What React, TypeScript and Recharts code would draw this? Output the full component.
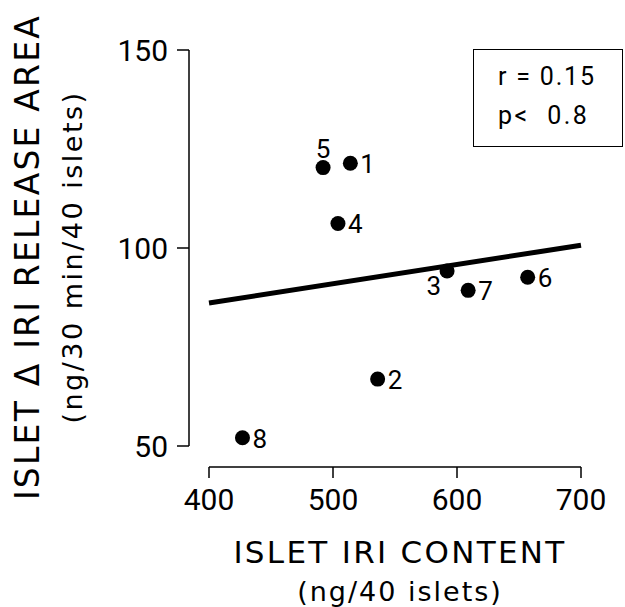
import React from "react";
import { ScatterChart, Scatter, XAxis, YAxis } from "recharts";

// islets, numbered as in the figure
const ISLET_IDS = [1, 2, 3, 4, 5, 6, 7, 8];
const IRI_CONTENT = [514, 536, 592, 504, 492, 657, 609, 427];
const RELEASE_AREA = [121.4, 66.9, 94.2, 106.2, 120.3, 92.6, 89.3, 52.1];

// regression line end points
const FIT_X = [400, 700];
const FIT_Y = [86.1, 100.7];

const X_TICKS = [400, 500, 600, 700];
const Y_TICKS = [50, 100, 150];

const STAT_R = "r = 0.15";
const STAT_P = "p<  0.8";

// where the number sits next to its dot (default: right)
const LABEL_SIDE: Record<number, string> = { 5: "top", 3: "below-left" };

const points = ISLET_IDS.map((id, i) => ({ id, x: IRI_CONTENT[i], y: RELEASE_AREA[i] }));
const fit = FIT_X.map((x, i) => ({ x, y: FIT_Y[i] }));

const LABEL_FONT = "'DejaVu Sans', sans-serif";
const NUM_FONT = "Roboto, sans-serif";

function IsletDot(props: any) {
  const { cx, cy, payload } = props;
  const side = LABEL_SIDE[payload.id] ?? "right";
  let tx = cx + 10;
  let ty = cy + 10;
  let anchor = "start";
  if (side === "top") {
    tx = cx;
    ty = cy - 10;
    anchor = "middle";
  } else if (side === "below-left") {
    tx = cx - 6;
    ty = cy + 24;
    anchor = "end";
  }
  return (
    <g>
      <circle cx={cx} cy={cy} r={7.5} fill="#000" />
      <text x={tx} y={ty} textAnchor={anchor} fontFamily={NUM_FONT} fontSize={26} fill="#000">
        {payload.id}
      </text>
    </g>
  );
}

const noDot = () => <g />;

function XTitle(props: any) {
  const vb = props.viewBox ?? { x: 209, y: 446, width: 372, height: 161 };
  const mid = vb.x + vb.width / 2 + 5;
  return (
    <g fontFamily={LABEL_FONT} fill="#000" textAnchor="middle">
      <text x={mid} y={vb.y + 117} fontSize={31} letterSpacing={2.3}>ISLET IRI CONTENT</text>
      <text x={mid} y={vb.y + 155} fontSize={27} letterSpacing={2}>(ng/40 islets)</text>
    </g>
  );
}

function YTitle(props: any) {
  const vb = props.viewBox ?? { x: 0, y: 50, width: 209, height: 396 };
  const mid = vb.y + vb.height / 2 + 9;
  return (
    <g fontFamily={LABEL_FONT} fill="#000" textAnchor="middle">
      <text transform={`translate(${vb.x + 39}, ${mid}) rotate(-90)`} fontSize={33} letterSpacing={2.2}>
        ISLET Δ IRI RELEASE AREA
      </text>
      <text transform={`translate(${vb.x + 82}, ${mid}) rotate(-90)`} fontSize={27} letterSpacing={2.5}>
        (ng/30 min/40 islets)
      </text>
    </g>
  );
}

export default function App() {
  return (
    <div style={{ position: "relative", width: 625, height: 607, background: "#fff" }}>
      <style>{"body{margin:0}"}</style>
      <ScatterChart width={625} height={607} margin={{ top: 50, right: 44, bottom: 0, left: 0 }}>
        <XAxis
          type="number"
          dataKey="x"
          domain={[400, 700]}
          ticks={X_TICKS}
          height={161}
          tickSize={11}
          tickMargin={32}
          axisLine={{ stroke: "#000", strokeWidth: 1.5, transform: "translate(0,21)" }}
          tickLine={{ stroke: "#000", strokeWidth: 1.5, transform: "translate(0,21)" }}
          tick={{ fill: "#000", fontSize: 30, fontFamily: NUM_FONT }}
          label={XTitle}
        />
        <YAxis
          type="number"
          dataKey="y"
          domain={[50, 150]}
          ticks={Y_TICKS}
          width={209}
          tickSize={12}
          tickMargin={29}
          axisLine={{ stroke: "#000", strokeWidth: 1.5, transform: "translate(-20,0)" }}
          tickLine={{ stroke: "#000", strokeWidth: 1.5, transform: "translate(-20,0)" }}
          tick={{ fill: "#000", fontSize: 30, fontFamily: NUM_FONT }}
          label={YTitle}
        />
        <Scatter
          data={fit}
          line={{ stroke: "#000", strokeWidth: 5 }}
          shape={noDot}
          isAnimationActive={false}
        />
        <Scatter data={points} shape={IsletDot} isAnimationActive={false} />
      </ScatterChart>
      <div
        style={{
          position: "absolute",
          left: 473,
          top: 49,
          width: 150,
          height: 98,
          boxSizing: "border-box",
          border: "1.5px solid #000",
          background: "#fff",
        }}
      >
        <svg width={147} height={95} style={{ position: "absolute", left: 0, top: 0 }}>
          <g fontFamily={NUM_FONT} fontSize={25} fill="#000">
            <text x={24} y={35} letterSpacing={1.8} xmlSpace="preserve">{STAT_R}</text>
            <text x={24} y={74} letterSpacing={2.5} xmlSpace="preserve">{STAT_P}</text>
          </g>
        </svg>
      </div>
    </div>
  );
}
